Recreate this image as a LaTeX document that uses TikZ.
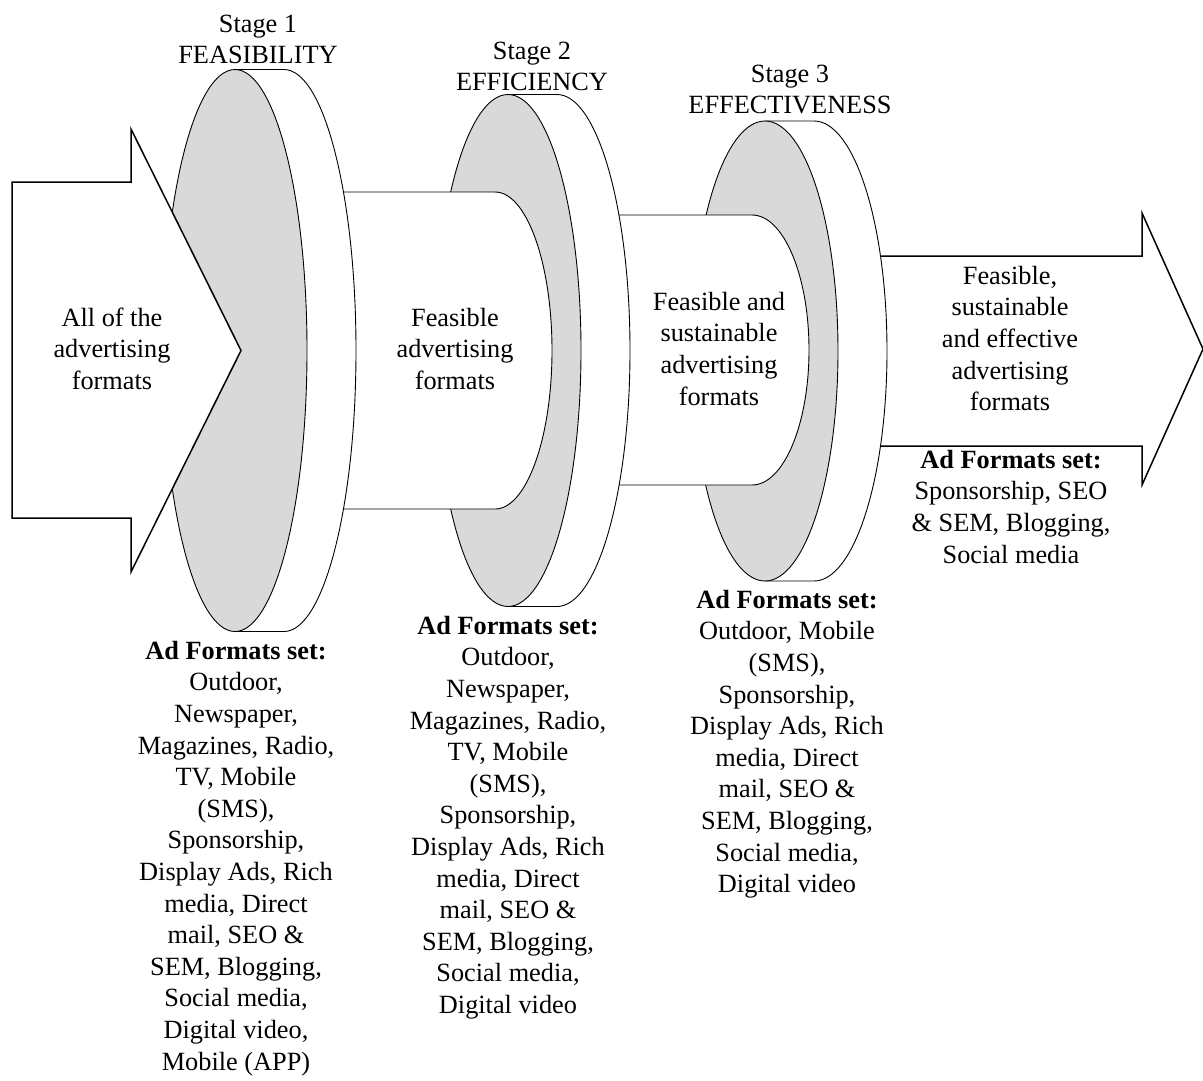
\documentclass[tikz,border=0pt]{standalone}
\usepackage{fontspec}
\setmainfont{Liberation Serif}
\definecolor{facegray}{RGB}{217,217,217}
\tikzset{
  face/.style={draw=black, line width=0.9pt, fill=facegray},
  rim/.style={draw=black, line width=0.9pt, fill=white},
  tube/.style={draw=black, line width=0.9pt, fill=white},
  bigarrow/.style={draw=black, line width=1.5pt, fill=white, line join=miter},
  lbl/.style={font=\fontsize{26.3}{31.6}\selectfont, align=center, anchor=north, inner sep=0pt},
}
% fixed height for the first line of every label, so its baseline sits 20pt below the node's top
\newcommand\topstrut{\rule{0pt}{20pt}}
% a disk seen from the side: white rim band behind a grey front face
% #1 = centre x, #2 = centre y, #3 = x radius, #4 = y radius
\newcommand\stagedisk[4]{%
  \path[rim] (#1,#2-#4) -- (#1+49,#2-#4)
     arc[start angle=-90, end angle=90, x radius=#3, y radius=#4] -- (#1,#2+#4);
  \path[face] (#1,#2) ellipse [x radius=#3, y radius=#4];
}
\begin{document}
\begin{tikzpicture}[x=1pt, y=1pt, yscale=-1]
  \fill[white] (0,0) rectangle (1203,1080);
  \useasboundingbox (0,0) rectangle (1203,1080);

  % outgoing arrow (left end hidden behind the third disk)
  \path[bigarrow] (860,256) -- (1142,256) -- (1142,213) -- (1203,349)
     -- (1142,485) -- (1142,446) -- (860,446);

  % stage 3 disk
  \stagedisk{765}{351}{73}{230}
  % tube between stage 2 and stage 3
  \path[tube] (555,215) -- (752,215)
     arc[start angle=-90, end angle=90, x radius=57, y radius=135] -- (555,485);
  % stage 2 disk
  \stagedisk{508}{350.5}{73}{256}
  % tube between stage 1 and stage 2
  \path[tube] (280,192) -- (495,192)
     arc[start angle=-90, end angle=90, x radius=57, y radius=158.5] -- (280,509);
  % stage 1 disk
  \stagedisk{235}{350.5}{72}{281}

  % incoming arrow
  \path[bigarrow] (12,182) -- (131,182) -- (131,129) -- (241,350.5)
     -- (131,572) -- (131,518) -- (12,518) -- cycle;

  % stage titles
  \node[lbl] (stageA) at (258,12) {\topstrut Stage 1\\FEASIBILITY};
  \node[lbl] (stageB) at (532,39) {\topstrut Stage 2\\EFFICIENCY};
  \node[lbl] (stageC) at (790,62) {\topstrut Stage 3\\EFFECTIVENESS};

  % flow labels
  \node[lbl] (allfmt) at (112,306) {\topstrut All of the\\advertising\\formats};
  \node[lbl] (feasfmt) at (455,306) {\topstrut Feasible\\advertising\\formats};
  \node[lbl] (sustfmt) at (719,290) {\topstrut Feasible and\\sustainable\\advertising\\formats};
  \node[lbl] (efffmt) at (1010,264) {\topstrut Feasible,\\sustainable\\and effective\\advertising\\formats};

  % format sets
  \node[lbl] (setA) at (236,639) {\topstrut\textbf{Ad Formats set:}\\Outdoor,\\Newspaper,\\Magazines, Radio,\\TV, Mobile\\(SMS),\\Sponsorship,\\Display Ads, Rich\\media, Direct\\mail, SEO \&\\SEM, Blogging,\\Social media,\\Digital video,\\Mobile (APP)};
  \node[lbl] (setB) at (508,614) {\topstrut\textbf{Ad Formats set:}\\Outdoor,\\Newspaper,\\Magazines, Radio,\\TV, Mobile\\(SMS),\\Sponsorship,\\Display Ads, Rich\\media, Direct\\mail, SEO \&\\SEM, Blogging,\\Social media,\\Digital video};
  \node[lbl] (setC) at (787,588) {\topstrut\textbf{Ad Formats set:}\\Outdoor, Mobile\\(SMS),\\Sponsorship,\\Display Ads, Rich\\media, Direct\\mail, SEO \&\\SEM, Blogging,\\Social media,\\Digital video};
  \node[lbl] (setD) at (1011,448) {\topstrut\textbf{Ad Formats set:}\\Sponsorship, SEO\\\& SEM, Blogging,\\Social media};
\end{tikzpicture}
\end{document}
